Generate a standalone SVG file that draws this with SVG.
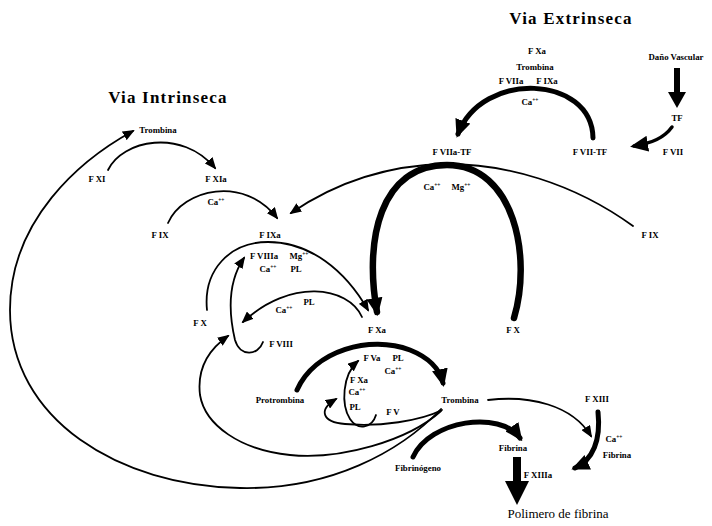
<svg xmlns="http://www.w3.org/2000/svg" width="712" height="526" viewBox="0 0 712 526">
<style>
text{font-family:"Liberation Serif","Times New Roman",serif;fill:#000;text-anchor:middle}
.s{font-size:8.8px;font-weight:bold}
.sup{font-size:5.5px}
.title{font-size:17px;font-weight:bold;letter-spacing:1.2px}
.big{font-size:13px}
.c{fill:none;stroke:#000;stroke-linecap:round}
.thin{stroke-width:1.8}
.thick{stroke-width:5}
.xthick{stroke-width:6.5}
</style>
<defs>
<marker id="ah" markerUnits="userSpaceOnUse" markerWidth="12" markerHeight="10" refX="10" refY="5" orient="auto"><path d="M0,0 L12,5 L0,10 z"/></marker>
<marker id="ahb" markerUnits="userSpaceOnUse" markerWidth="18" markerHeight="16" refX="14" refY="8" orient="auto"><path d="M0,0 L18,8 L0,16 z"/></marker>
</defs>
<rect width="712" height="526" fill="#fff"/>
<g id="connectors">
<!-- extrinsic -->
<path class="c thick" marker-end="url(#ahb)" d="M593,138 C592,75 482,70 458,134"/>
<path d="M674,68 H680 V92 H686 L677,108 L668,92 H674 Z"/>
<path class="c" style="stroke-width:3.5" marker-end="url(#ahb)" d="M672,127 C664,138 652,143 634,146"/>
<path class="c xthick" marker-end="url(#ahb)" d="M514,318 C532,258 515,165 447,165 C380,165 364,240 377,312"/>
<path class="c thin" marker-end="url(#ah)" d="M633,226 C572,182 505,164 447,164 C382,165 332,185 291,213"/>
<!-- intrinsic -->
<path class="c thin" marker-end="url(#ah)" d="M108,170 C122,140 182,128 215,168"/>
<path class="c thin" marker-end="url(#ah)" d="M168,223 C183,189 244,175 277,218"/>
<path class="c thin" marker-end="url(#ah)" d="M207,310 C203,270 230,242 268,242 C310,242 345,270 368,310"/>
<path class="c thin" marker-end="url(#ah)" d="M263,342 C258,356 240,357 235,340 C228,310 229,280 244,258"/>
<path class="c thin" marker-end="url(#ah)" d="M362,317 C348,286 290,278 243,322"/>
<!-- thrombin feedback loops -->
<path class="c thin" marker-end="url(#ah)" d="M441,409 C400,452 330,490 240,488 C120,486 10,420 10,310 C10,220 80,160 133,131"/>
<path class="c thin" marker-end="url(#ah)" d="M441,411 C408,441 340,460 290,455 C240,450 205,425 200,395 C197,370 208,350 228,336"/>
<path class="c thin" marker-end="url(#ah)" d="M442,410 C420,421 380,427 345,424 C322,422 318,410 336,399"/>
<path class="c thin" marker-end="url(#ah)" d="M376,415 C372,428 358,431 350,419 C341,405 342,375 358,361"/>
<!-- common -->
<path class="c thick" marker-end="url(#ahb)" d="M297,390 C315,350 370,335 410,350 C430,358 440,370 443,383"/>
<path class="c thin" marker-end="url(#ah)" d="M488,400 C530,395 572,405 591,436"/>
<path class="c thick" marker-end="url(#ahb)" d="M598,412 C601,440 593,460 575,468"/>
<path class="c thick" marker-end="url(#ahb)" d="M413,457 C430,420 500,410 520,438"/>
<path d="M513,457 H521 V481 H529 L517,505 L505,481 H513 Z"/>
</g>
<g id="titles">
<text class="title" x="571" y="24">Via Extrinseca</text>
<text class="title" x="168" y="103">Via Intrinseca</text>
<text class="big" x="558" y="518">Polimero de fibrina</text>
</g>
<g id="n-fvii-cofactors"><text class="s" x="537" y="54">F Xa</text><text class="s" x="535" y="70">Trombina</text><text class="s" x="511" y="84">F VIIa</text><text class="s" x="547" y="84">F IXa</text><text class="s" x="530" y="105">Ca<tspan class="sup" dy="-3">++</tspan></text></g>
<g id="n-dano"><text class="s" x="676" y="60">Daño Vascular</text></g>
<g id="n-tf"><text class="s" x="677" y="121">TF</text></g>
<g id="n-fvii"><text class="s" x="673" y="155">F VII</text></g>
<g id="n-fviitf"><text class="s" x="590" y="155">F VII-TF</text></g>
<g id="n-fviiatf"><text class="s" x="452" y="155">F VIIa-TF</text><text class="s" x="432" y="190">Ca<tspan class="sup" dy="-3">++</tspan></text><text class="s" x="461" y="190">Mg<tspan class="sup" dy="-3">++</tspan></text></g>
<g id="n-fix-r"><text class="s" x="650" y="238">F IX</text></g>
<g id="n-fx-r"><text class="s" x="513" y="333">F X</text></g>
<g id="n-trombina-top"><text class="s" x="158" y="133">Trombina</text></g>
<g id="n-fxi"><text class="s" x="97" y="182">F XI</text></g>
<g id="n-fxia"><text class="s" x="216" y="182">F XIa</text><text class="s" x="216" y="205">Ca<tspan class="sup" dy="-3">++</tspan></text></g>
<g id="n-fix"><text class="s" x="160" y="238">F IX</text></g>
<g id="n-fixa"><text class="s" x="270" y="238">F IXa</text><text class="s" x="264" y="259">F VIIIa</text><text class="s" x="299" y="259">Mg<tspan class="sup" dy="-3">++</tspan></text><text class="s" x="268" y="272">Ca<tspan class="sup" dy="-3">++</tspan></text><text class="s" x="296" y="272">PL</text></g>
<g id="n-fx"><text class="s" x="200" y="326">F X</text></g>
<g id="n-fviii"><text class="s" x="281" y="347">F VIII</text><text class="s" x="284" y="313">Ca<tspan class="sup" dy="-3">++</tspan></text><text class="s" x="309" y="305">PL</text></g>
<g id="n-fxa"><text class="s" x="377" y="333">F Xa</text></g>
<g id="n-protrombina"><text class="s" x="280" y="403">Protrombina</text></g>
<g id="n-fva"><text class="s" x="372" y="361">F Va</text><text class="s" x="398" y="361">PL</text><text class="s" x="393" y="374">Ca<tspan class="sup" dy="-3">++</tspan></text></g>
<g id="n-fv"><text class="s" x="359" y="383">F Xa</text><text class="s" x="357" y="395">Ca<tspan class="sup" dy="-3">++</tspan></text><text class="s" x="355" y="410">PL</text><text class="s" x="393" y="415">F V</text></g>
<g id="n-trombina"><text class="s" x="460" y="403">Trombina</text></g>
<g id="n-fxiii"><text class="s" x="597" y="402">F XIII</text><text class="s" x="614" y="442">Ca<tspan class="sup" dy="-3">++</tspan></text><text class="s" x="617" y="458">Fibrina</text></g>
<g id="n-fibrinogeno"><text class="s" x="418" y="471">Fibrinógeno</text></g>
<g id="n-fibrina"><text class="s" x="513" y="451">Fibrina</text></g>
<g id="n-fxiiia"><text class="s" x="538" y="478">F XIIIa</text></g>
</svg>
